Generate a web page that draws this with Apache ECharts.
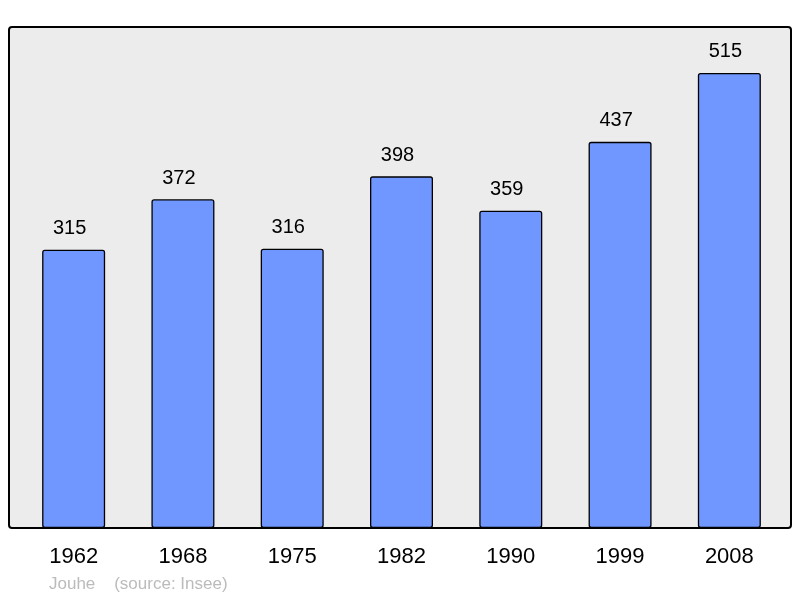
<!DOCTYPE html>
<html>
<head>
<meta charset="utf-8">
<script src="https://cdn.jsdelivr.net/npm/echarts@6/dist/echarts.min.js"></script>
<style>
	html, body { margin: 0; padding: 0; background: #fff; }
	#chart { width: 800px; height: 598px; }
</style>
</head>
<body>
<div id="chart"></div>
<script>
// 年份 / 人口
var years = ['1962', '1968', '1975', '1982', '1990', '1999', '2008'];
var population = [315, 372, 316, 398, 359, 437, 515];

var myChart = echarts.init(document.getElementById('chart'));
var option = {
	animation: false,
	backgroundColor: '#ffffff',
	textStyle: { fontFamily: 'Liberation Sans, Arial, sans-serif' },
	// 背景框
	graphic: [
		{
			type: 'rect',
			z: -10,
			shape: { x: 9, y: 27, width: 782, height: 501, r: 3 },
			style: { fill: '#ececec', stroke: '#000', lineWidth: 2 }
		},
		{
			type: 'text',
			left: 49,
			top: 576,
			style: {
				text: 'Jouhe    (source: Insee)',
				fill: '#bbbbbb',
				font: '17px Liberation Sans, Arial, sans-serif'
			}
		}
	],
	grid: { left: 19, right: 16, top: 27, bottom: 70 },
	xAxis: {
		type: 'category',
		data: years,
		axisLine: { show: false },
		axisTick: { show: false },
		axisLabel: { color: '#000', fontSize: 22, margin: 18 }
	},
	yAxis: {
		type: 'value',
		min: 0,
		max: 567,
		show: false,
		splitLine: { show: false }
	},
	series: [{
		type: 'bar',
		data: population,
		barWidth: 63,
		itemStyle: {
			color: '#7097ff',
			borderColor: '#000',
			borderWidth: 1.3,
			borderRadius: 2
		},
		label: {
			show: true,
			position: 'top',
			distance: 11,
			offset: [-4, 0],
			color: '#000',
			fontSize: 20
		}
	}]
};
myChart.setOption(option);
</script>
</body>
</html>
